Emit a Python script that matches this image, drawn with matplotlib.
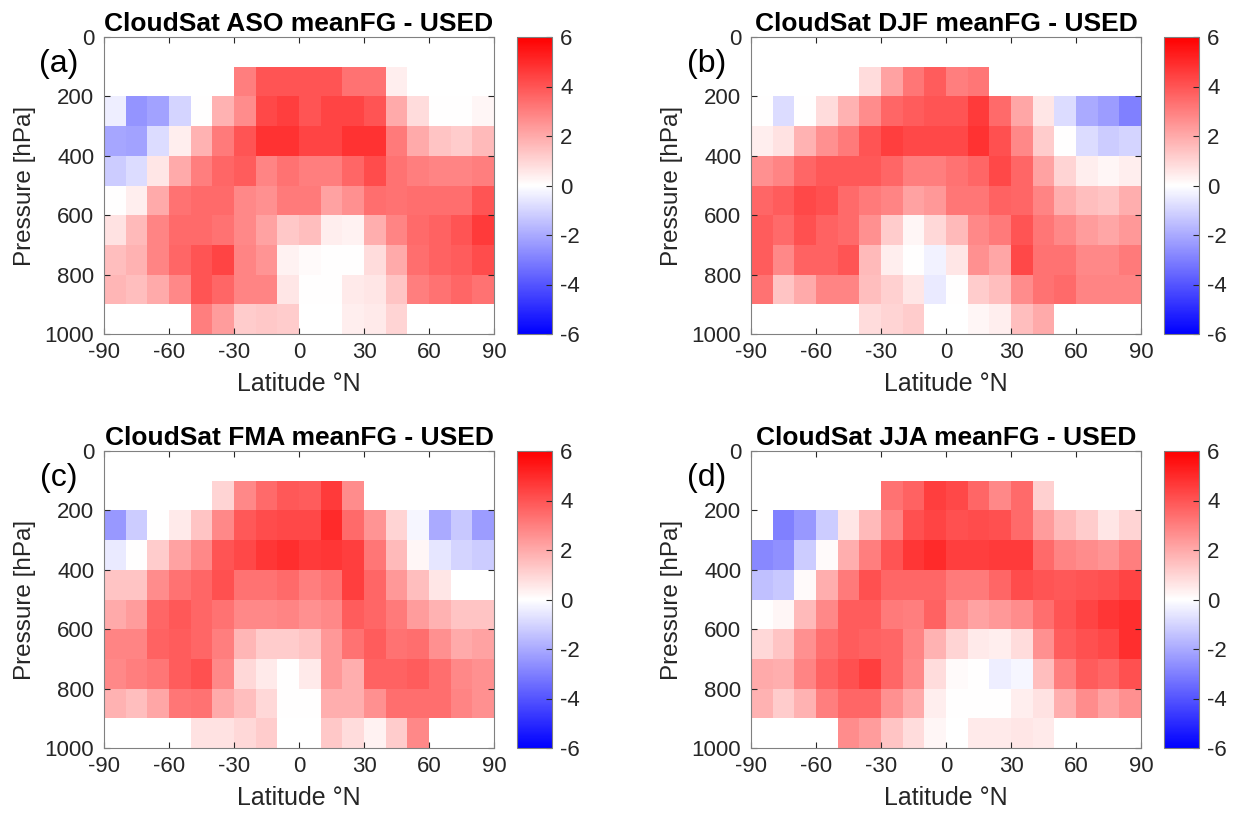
import numpy as np
import matplotlib
matplotlib.use('Agg')
import matplotlib.pyplot as plt

plt.rcParams['font.family'] = ['Liberation Sans', 'DejaVu Sans']
plt.rcParams['axes.unicode_minus'] = False

nan = np.nan

lat_edges = np.arange(-90, 91, 10)
p_edges = np.arange(0, 1001, 100)

seasons = ['ASO', 'DJF', 'FMA', 'JJA']
panel_tags = ['(a)', '(b)', '(c)', '(d)']

# rows: 0-100, 100-200, ..., 900-1000 hPa ; columns: -90..-80, ..., 80..90
aso = [
    [nan]*18,
    [nan, nan, nan, nan, nan, nan, 3.0, 4.0, 4.0, 4.0, 4.0, 3.3, 3.3, 0.4, nan, nan, nan, nan],
    [-0.4, -2.5, -2.2, -1.0, 0.0, 1.8, 2.7, 4.3, 4.5, 4.0, 4.4, 4.4, 4.0, 2.0, 0.8, 0.0, 0.0, 0.2],
    [-2.1, -2.2, -0.8, 0.4, 1.8, 3.1, 4.0, 4.8, 4.8, 4.4, 4.4, 4.8, 4.8, 3.1, 2.0, 1.4, 1.2, 1.6],
    [-1.2, -0.8, 0.6, 2.0, 3.0, 3.6, 3.8, 2.9, 3.3, 3.0, 3.0, 3.6, 4.2, 3.3, 3.0, 2.9, 2.9, 3.0],
    [0.0, 0.4, 2.0, 3.3, 3.5, 3.5, 2.8, 2.6, 3.1, 3.1, 2.2, 2.6, 3.4, 3.3, 3.4, 3.4, 3.4, 4.0],
    [0.7, 1.6, 2.9, 3.5, 3.5, 3.3, 2.8, 2.2, 1.3, 1.5, 0.4, 0.3, 1.9, 2.9, 3.5, 3.7, 4.0, 4.6],
    [1.5, 1.8, 2.9, 3.6, 4.0, 4.4, 2.9, 2.5, 0.3, 0.1, 0.0, 0.0, 0.8, 2.0, 3.4, 3.7, 3.8, 4.2],
    [1.7, 1.5, 2.0, 2.8, 4.0, 3.6, 2.9, 2.9, 0.6, 0.0, 0.0, 0.5, 0.6, 1.4, 3.0, 3.3, 3.6, 3.3],
    [nan, nan, nan, nan, 3.0, 2.3, 1.2, 1.3, 1.2, nan, nan, 0.4, 0.5, 1.0, nan, nan, nan, nan],
]

djf = [
    [nan]*18,
    [nan, nan, nan, nan, nan, 0.8, 2.2, 3.2, 3.8, 3.0, 3.2, nan, nan, nan, nan, nan, nan, nan],
    [0.0, -0.8, 0.0, 0.8, 1.8, 2.7, 3.6, 3.8, 4.0, 4.0, 4.6, 3.5, 2.1, 0.6, -0.8, -2.0, -2.3, -3.0],
    [0.4, 0.7, 1.8, 2.6, 3.1, 4.0, 4.5, 4.3, 4.3, 4.3, 4.8, 4.1, 2.8, 1.2, 0.0, -0.8, -1.2, -1.0],
    [2.6, 2.9, 3.6, 3.9, 3.9, 3.9, 3.6, 3.0, 3.0, 3.3, 3.6, 4.3, 3.6, 2.2, 1.0, 0.4, 0.2, 0.4],
    [3.6, 3.8, 4.3, 4.1, 3.5, 3.1, 2.9, 2.2, 2.4, 3.2, 3.2, 3.7, 3.6, 2.9, 1.9, 1.5, 1.4, 1.9],
    [3.8, 3.5, 4.1, 3.7, 3.5, 2.6, 1.2, 0.2, 0.9, 1.6, 2.8, 3.1, 4.0, 3.2, 2.8, 2.3, 2.1, 2.4],
    [3.8, 2.8, 3.7, 3.7, 4.0, 1.6, 0.4, 0.0, -0.3, 0.6, 2.6, 2.1, 4.3, 3.3, 3.3, 2.8, 2.8, 3.1],
    [3.3, 1.4, 2.0, 2.9, 2.9, 1.5, 1.1, 0.6, -0.5, 0.0, 1.2, 1.5, 2.7, 3.3, 3.5, 2.9, 2.9, 2.9],
    [nan, nan, nan, nan, nan, 0.8, 1.0, 1.2, nan, nan, 0.2, 0.4, 1.5, 2.0, nan, nan, nan, nan],
]

fma = [
    [nan]*18,
    [nan, nan, nan, nan, nan, 1.0, 2.8, 3.5, 3.9, 3.8, 4.6, 2.7, nan, nan, nan, nan, nan, nan],
    [-2.4, -1.2, 0.0, 0.5, 1.4, 2.8, 3.9, 4.2, 4.3, 4.3, 5.0, 3.5, 2.5, 1.0, -0.2, -2.0, -1.3, -2.3],
    [-0.5, 0.0, 1.2, 2.2, 2.8, 4.0, 4.3, 4.7, 4.9, 4.6, 4.7, 4.5, 3.2, 1.6, 0.2, -0.6, -1.0, -1.2],
    [1.4, 1.4, 2.7, 3.3, 3.6, 4.1, 3.3, 3.3, 3.5, 3.0, 3.3, 4.5, 3.6, 2.4, 1.5, 0.6, nan, nan],
    [2.0, 2.3, 3.6, 3.9, 3.6, 3.3, 2.8, 2.8, 2.9, 2.6, 2.8, 3.8, 3.6, 3.1, 2.3, 1.8, 1.4, 1.4],
    [2.9, 2.9, 3.7, 3.8, 3.6, 3.0, 1.7, 1.2, 1.2, 1.4, 2.4, 3.3, 3.8, 3.3, 3.4, 2.6, 2.0, 2.2],
    [2.8, 3.0, 3.2, 3.8, 4.1, 2.8, 0.9, 0.5, 0.0, 0.5, 2.4, 1.9, 3.7, 3.7, 3.8, 3.4, 2.8, 2.6],
    [1.8, 1.5, 2.1, 3.2, 3.3, 2.0, 1.5, 0.9, 0.0, 0.0, 1.9, 1.9, 2.6, 3.4, 3.4, 3.4, 2.9, 2.6],
    [nan, nan, nan, nan, 0.7, 0.7, 0.9, 1.2, nan, nan, 1.3, 0.8, 0.3, 1.2, 2.8, nan, nan, nan],
]

jja = [
    [nan]*18,
    [nan, nan, nan, nan, nan, nan, 3.3, 3.7, 4.5, 4.3, 3.6, 2.8, 3.5, 1.1, nan, nan, nan, nan],
    [0.0, -3.0, -2.4, -1.2, 0.6, 1.6, 2.9, 4.1, 4.4, 4.1, 4.2, 4.1, 3.5, 2.3, 1.6, 1.2, 0.6, 1.0],
    [-2.8, -2.6, -1.2, 0.1, 1.9, 3.0, 4.0, 4.7, 5.0, 4.5, 4.5, 4.6, 4.6, 3.5, 2.9, 2.7, 2.5, 3.0],
    [-1.5, -1.3, 0.1, 1.9, 3.1, 4.1, 3.6, 3.6, 3.6, 3.1, 3.1, 3.6, 4.2, 4.0, 3.9, 4.0, 4.1, 4.4],
    [0.0, 0.2, 1.6, 2.8, 3.8, 3.8, 3.1, 3.0, 3.7, 2.6, 2.2, 2.4, 2.7, 3.4, 4.0, 4.4, 4.7, 4.9],
    [0.9, 1.4, 2.6, 3.4, 3.8, 3.7, 3.6, 2.9, 1.8, 1.0, 0.5, 0.4, 0.8, 2.6, 3.8, 4.1, 4.3, 4.9],
    [2.0, 1.9, 2.9, 3.7, 4.1, 4.5, 3.6, 2.8, 0.8, 0.1, 0.0, -0.4, -0.2, 1.5, 3.0, 3.8, 3.6, 4.1],
    [1.8, 1.2, 1.8, 3.0, 3.6, 3.6, 2.6, 2.0, 0.4, 0.0, 0.0, 0.0, 0.4, 0.7, 1.9, 2.7, 2.2, 2.6],
    [nan, nan, nan, nan, 2.7, 2.3, 1.4, 0.8, 0.2, nan, 0.5, 0.5, 0.6, 0.5, nan, nan, nan, nan],
]

fields = [aso, djf, fma, jja]

W, H = 1233, 816
fig = plt.figure(figsize=(W / 100, H / 100), dpi=100)

# pixel boxes (left, top) of each panel
ax_w, ax_h = 390, 297
corners = [(104, 37), (751, 37), (104, 451), (751, 451)]
edge = '#808080'
txt = '#262626'

for i in range(4):
    x0, y0 = corners[i]
    ax = fig.add_axes([x0 / W, 1 - (y0 + ax_h) / H, ax_w / W, ax_h / H])
    data = np.ma.masked_invalid(np.array(fields[i]))
    mesh = ax.pcolormesh(lat_edges, p_edges, data, cmap='bwr', vmin=-6, vmax=6)
    ax.set_xlim(-90, 90)
    ax.set_ylim(1000, 0)
    ax.set_xticks([-90, -60, -30, 0, 30, 60, 90])
    ax.set_yticks([0, 200, 400, 600, 800, 1000])
    ax.tick_params(direction='in', top=True, right=True, labelsize=16,
                   color=txt, labelcolor=txt, length=4)
    ax.tick_params(axis='y', pad=7)
    ax.tick_params(axis='x', pad=6)
    for s in ax.spines.values():
        s.set_color(edge)
    ax.set_xlabel('Latitude °N', fontsize=18, color=txt, labelpad=6)
    ax.set_ylabel('Pressure [hPa]', fontsize=17.5, color=txt, labelpad=6)
    ax.set_title('CloudSat %s meanFG - USED' % seasons[i], fontsize=19,
                 fontweight='bold', pad=4)
    ax.text(-0.115, 0.91, panel_tags[i], transform=ax.transAxes, fontsize=23,
            ha='center', va='center')

    cax = fig.add_axes([(x0 + 413) / W, 1 - (y0 + ax_h) / H, 35 / W, ax_h / H])
    cb = fig.colorbar(mesh, cax=cax)
    cb.set_ticks([-6, -4, -2, 0, 2, 4, 6])
    cb.ax.tick_params(direction='in', labelsize=16, color=txt,
                      labelcolor=txt, length=4, pad=6)
    cb.outline.set_edgecolor(edge)

fig.savefig('out.png', dpi=100)
